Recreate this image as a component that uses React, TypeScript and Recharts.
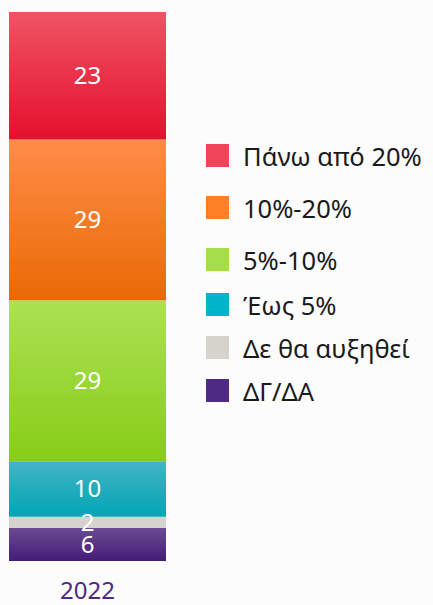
import { BarChart, Bar, XAxis, YAxis, Legend, LabelList } from 'recharts'

// categories and series (legend order, top of the stack first)
const years = ['2022']
const seriesNames = ['Πάνω από 20%', '10%-20%', '5%-10%', 'Έως 5%', 'Δε θα αυξηθεί', 'ΔΓ/ΔΑ']
const seriesValues = [[23], [29], [29], [10], [2], [6]]

const colors = ['#ef4459', '#ff7f27', '#a6dd4a', '#00b5c8', '#d6d2cc', '#4e2a84']
const gradients = [
    ['#ef5464', '#e5102e'],
    ['#ff8c48', '#e96a05'],
    ['#abe254', '#88cc18'],
    ['#45b4c4', '#00a5b6'],
    ['#d6d2cd', '#d6d2cd'],
    ['#6a4b92', '#441c78'],
]
const legendGaps = [0, 29, 29, 22, 20, 20]

const data = years.map((year, i) => {
    const row: Record<string, string | number> = { year }
    seriesNames.forEach((_, s) => {
        row['s' + s] = seriesValues[s][i]
    })
    return row
})

const font = '"Noto Sans", sans-serif'

const LegendBox = () => (
    <div style={{ fontFamily: font }}>
        {seriesNames.map((name, i) => (
            <div
                key={name}
                style={{
                    display: 'flex',
                    alignItems: 'center',
                    marginTop: legendGaps[i],
                    height: 23,
                }}
            >
                <span
                    style={{
                        width: 23,
                        height: 23,
                        background: colors[i],
                        display: 'inline-block',
                        marginRight: 14,
                        flexShrink: 0,
                    }}
                />
                <span style={{ fontSize: 25.5, color: '#1a1a1a', whiteSpace: 'nowrap' }}>
                    {name}
                </span>
            </div>
        ))}
    </div>
)

const App = () => {
    // stack from the bottom: last legend item first
    const order = seriesNames.map((_, i) => i).reverse()
    return (
        <div
            style={{
                position: 'absolute',
                left: 0,
                top: 0,
                width: 433,
                height: 605,
                background: '#fcfcfc',
            }}
        >
            <BarChart
                width={433}
                height={605}
                data={data}
                barCategoryGap={0}
                margin={{ top: 12, right: 267, left: 9, bottom: 0 }}
            >
                <defs>
                    {gradients.map((g, i) => (
                        <linearGradient key={i} id={'grad' + i} x1="0" y1="0" x2="0" y2="1">
                            <stop offset="0%" stopColor={g[0]} />
                            <stop offset="100%" stopColor={g[1]} />
                        </linearGradient>
                    ))}
                </defs>
                <XAxis
                    dataKey="year"
                    axisLine={false}
                    tickLine={false}
                    tickSize={0}
                    tickMargin={21}
                    height={44}
                    tick={{ fill: '#4e2a84', fontSize: 24, fontFamily: font }}
                />
                <YAxis hide domain={[0, 99]} />
                <Legend
                    layout="horizontal"
                    verticalAlign="middle"
                    align="center"
                    content={<LegendBox />}
                    wrapperStyle={{ left: 206, top: 144, width: 227 }}
                />
                {order.map((i) => (
                    <Bar
                        key={i}
                        dataKey={'s' + i}
                        stackId="a"
                        fill={'url(#grad' + i + ')'}
                        isAnimationActive={false}
                    >
                        <LabelList
                            dataKey={'s' + i}
                            position="center"
                            fill="#ffffff"
                            fontSize={24}
                            fontFamily={font}
                        />
                    </Bar>
                ))}
            </BarChart>
        </div>
    )
}

export default App
